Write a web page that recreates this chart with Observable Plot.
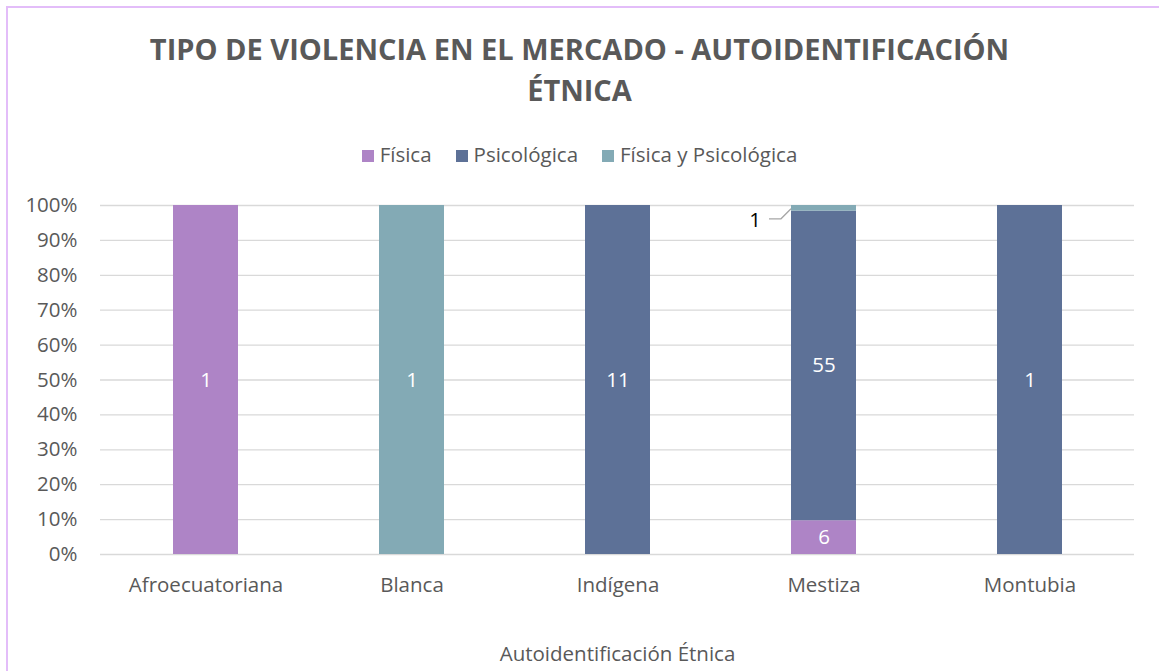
<!DOCTYPE html>
<html><head><meta charset="utf-8">
<script src="https://cdn.jsdelivr.net/npm/d3@7"></script>
<script src="https://cdn.jsdelivr.net/npm/@observablehq/plot@0.6"></script>
<style>
body{margin:0;background:#fff;font-family:"Open Sans",sans-serif;width:1159px;height:671px;overflow:hidden;position:relative;}
#frame{position:absolute;left:6px;top:6px;width:1170px;height:690px;border-left:2px solid #e3bdf9;border-top:2px solid #e3bdf9;}
#title{position:absolute;top:28px;left:0;width:1159px;text-align:center;font-weight:bold;font-size:29px;line-height:41px;color:#595959;}
#legend{position:absolute;top:141px;left:0;width:1159px;text-align:center;font-size:20.5px;line-height:26px;color:#595959;white-space:nowrap;}
#legend .item{display:inline-block;margin:0 12px;}
#legend .sw{display:inline-block;width:12px;height:12px;margin-right:6px;vertical-align:0px;}
#chart{position:absolute;left:0;top:180px;}
</style></head>
<body>
<div id="frame"></div>
<div id="title">TIPO DE VIOLENCIA EN EL MERCADO - AUTOIDENTIFICACIÓN<br>ÉTNICA</div>
<div id="legend"></div>
<div id="chart"></div>
<script>
const categories = ["Afroecuatoriana","Blanca","Indígena","Mestiza","Montubia"];
const series = ["Física","Psicológica","Física y Psicológica"];
const colors = ["#ae84c6","#5d7197","#83aab5"];
const fisica = [1,0,0,6,0];
const psicologica = [0,0,11,55,1];
const ambas = [0,1,0,1,0];
const yTicks = [0,0.1,0.2,0.3,0.4,0.5,0.6,0.7,0.8,0.9,1];

const rows = [];
categories.forEach((c,i)=>{
  [fisica,psicologica,ambas].forEach((arr,j)=>{
    if (arr[i] > 0) rows.push({cat:c, tipo:series[j], n:arr[i]});
  });
});
const outside = d => d.cat === "Mestiza" && d.tipo === "Física y Psicológica";
const stackOpts = {x:"cat", y:"n", z:"tipo", order: series, offset:"normalize"};

const legend = document.getElementById("legend");
series.forEach((s,i)=>{
  const it = document.createElement("span");
  it.className = "item";
  it.innerHTML = `<span class="sw" style="background:${colors[i]}"></span>${s}`;
  legend.appendChild(it);
});

const FS = 20.5;
const chart = Plot.plot({
  width: 1159, height: 491,
  marginTop: 25, marginBottom: 117, marginLeft: 100, marginRight: 25,
  style: {fontFamily: '"Open Sans", sans-serif', fontSize: FS + "px", color: "#595959", background: "transparent", overflow: "visible"},
  x: {domain: categories, paddingInner: 0.686, paddingOuter: 0.343, label: null},
  y: {domain: [0,1], label: null},
  color: {domain: series, range: colors},
  marks: [
    Plot.gridY(yTicks, {stroke: "#d9d9d9", strokeOpacity: 1, strokeWidth: 1.3}),
    Plot.barY(rows, Plot.stackY({...stackOpts, fill: "tipo"})),
    Plot.text(rows, Plot.stackY({...stackOpts, text: d => outside(d) ? null : String(d.n), fill: "white", fontSize: FS})),
    Plot.text(rows, Plot.stackY({...stackOpts, text: d => outside(d) ? String(d.n) : null, fill: "black", fontSize: FS, dx: -69, dy: 12})),
    Plot.axisY(yTicks, {tickFormat: d3.format(".0%"), tickSize: 0, tickPadding: 23, fontSize: FS, label: null}),
    Plot.axisX({tickSize: 0, tickPadding: 23, fontSize: FS, label: "Autoidentificación Étnica", labelAnchor: "center", labelOffset: 106, labelArrow: "none"})
  ]
});
document.getElementById("chart").appendChild(chart);

// leader line for the outside label, positioned through the plot's scales
const xs = chart.scale("x"), ys = chart.scale("y");
const mi = categories.indexOf("Mestiza");
const tot = fisica[mi] + psicologica[mi] + ambas[mi];
const mid = (fisica[mi] + psicologica[mi] + ambas[mi] / 2) / tot;
const ex = xs.apply("Mestiza"), ey = ys.apply(mid);
d3.select(chart).append("path")
  .attr("d", `M${ex},${ey + 1} L${ex - 10},${ey + 11} L${ex - 22},${ey + 11}`)
  .attr("fill", "none").attr("stroke", "#a6a6a6").attr("stroke-width", 1.3);
</script>
</body></html>
